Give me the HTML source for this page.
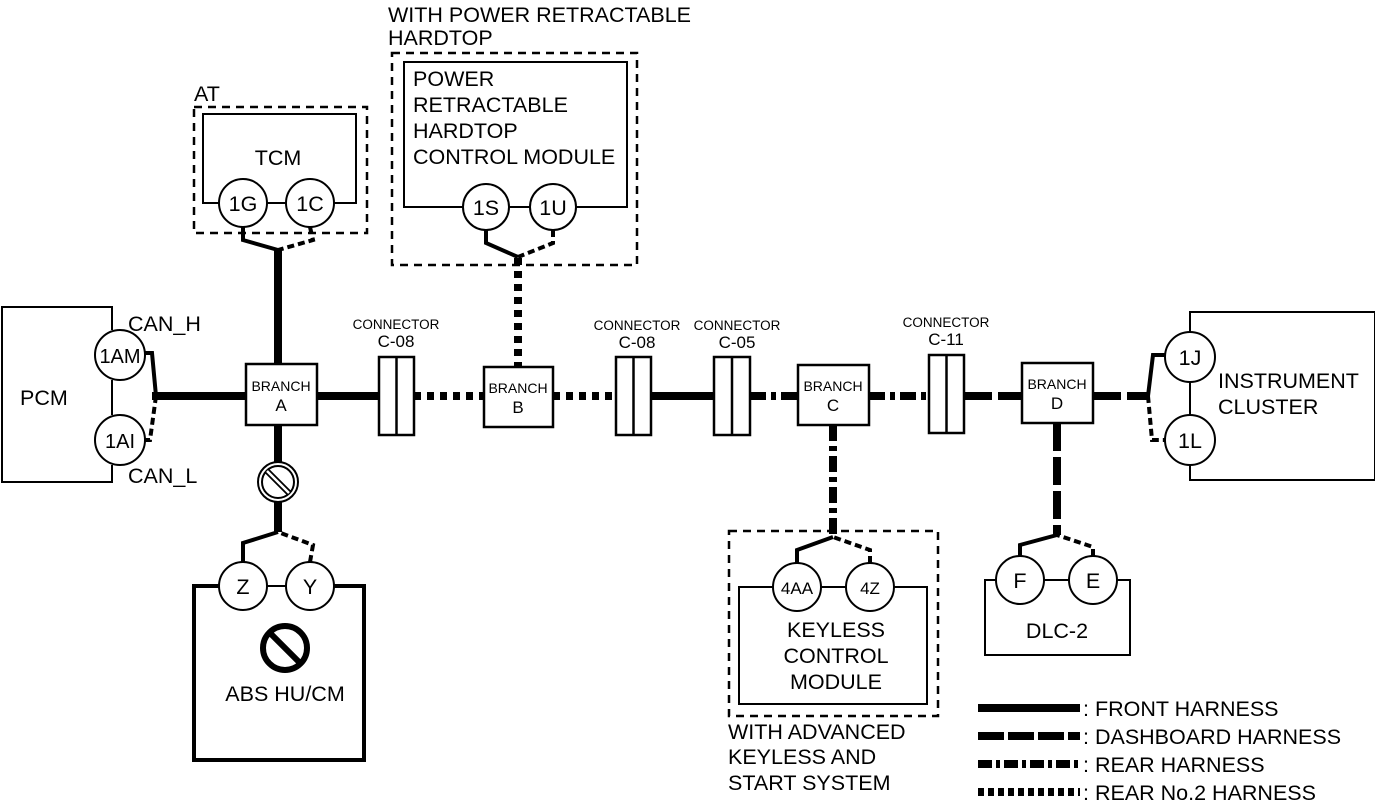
<!DOCTYPE html>
<html><head><meta charset="utf-8"><style>
html,body{margin:0;padding:0;background:#fff;}
svg{display:block;}
text{font-family:"Liberation Sans",Arial,sans-serif;fill:#000;}
</style></head><body>
<svg width="1375" height="805" viewBox="0 0 1375 805" xmlns="http://www.w3.org/2000/svg">
<g fill="none" stroke="#000">
<g stroke-width="8">
<line x1="152" y1="396" x2="246" y2="396"/>
<line x1="317" y1="396" x2="379" y2="396"/>
<line x1="651" y1="396" x2="714" y2="396"/>
<line x1="278" y1="250" x2="278" y2="364"/>
<line x1="278" y1="425" x2="278" y2="464"/>
<line x1="278" y1="500" x2="278" y2="532"/>
</g>
<g stroke-width="8" stroke-dasharray="7,6">
<line x1="414" y1="396" x2="484" y2="396"/>
<line x1="553" y1="396" x2="615" y2="396"/>
<line x1="518" y1="258" x2="518" y2="367"/>
</g>
<g stroke-width="8" stroke-dasharray="16,5,5,5">
<line x1="750" y1="396" x2="798" y2="396"/>
<line x1="869" y1="396" x2="929" y2="396"/>
<line x1="833" y1="425" x2="833" y2="537"/>
</g>
<g stroke-width="8" stroke-dasharray="28,6">
<line x1="964" y1="396" x2="1022" y2="396"/>
<line x1="1093" y1="396" x2="1148" y2="396"/>
<line x1="1057" y1="423" x2="1057" y2="535"/>
</g>
<g stroke-width="4">
<polyline points="137,353 152,353 156,396"/>
<polyline points="243,227 243,240 278,250"/>
<polyline points="486,230 486,243 518,257"/>
<polyline points="243,562 243,543 278,532"/>
<polyline points="797,563 797,550 833,537"/>
<polyline points="1020,556 1020,545 1057,535"/>
<polyline points="1166,355 1153,355 1148,396"/>
</g>
<g stroke-width="4" stroke-dasharray="7,4">
<polyline points="156,396 150,440 143,440"/>
<polyline points="310,227 313,240 278,250"/>
<polyline points="553,230 553,243 518,257"/>
<polyline points="310,562 313,545 278,532"/>
<polyline points="870,563 870,550 833,537"/>
<polyline points="1093,556 1093,547 1057,535"/>
<polyline points="1148,396 1152,440 1166,440"/>
</g>
<g stroke-width="2.5" stroke-dasharray="8,6">
<rect x="194" y="107" width="173" height="126"/>
<rect x="392" y="53" width="245" height="212"/>
<rect x="729" y="531" width="209" height="185"/>
</g>
<g stroke-width="2" fill="#fff">
<polyline points="112,330 112,307 2,307 2,482 112,482 112,465"/>
<polyline points="219,203 203,203 203,114 356,114 356,203 334,203"/>
<polyline points="463,207 404,207 404,62 627,62 627,207 576,207"/>
<polyline points="773,587 739,587 739,704 927,704 927,587 894,587"/>
<polyline points="996,580 985,580 985,655 1130,655 1130,580 1117,580"/>
<polyline points="1190,332 1190,312 1375,312 1375,480 1190,480 1190,465"/>
<line x1="112" y1="380" x2="112" y2="415"/>
<line x1="1190" y1="382" x2="1190" y2="415"/>
<line x1="267" y1="203" x2="286" y2="203"/>
<line x1="509" y1="207" x2="530" y2="207"/>
<line x1="821" y1="587" x2="846" y2="587"/>
<line x1="1044" y1="580" x2="1069" y2="580"/>
<line x1="267" y1="586" x2="286" y2="586"/>
</g>
<polyline points="219,586 194,586 194,760 364,760 364,586 334,586" stroke-width="4"/>
<g stroke-width="2" fill="#fff">
<circle cx="120" cy="355" r="25"/><circle cx="120" cy="440" r="25"/>
<circle cx="243" cy="203" r="24"/><circle cx="310" cy="203" r="24"/>
<circle cx="486" cy="207" r="23"/><circle cx="553" cy="207" r="23"/>
<circle cx="797" cy="587" r="24"/><circle cx="870" cy="587" r="24"/>
<circle cx="1020" cy="580" r="24"/><circle cx="1093" cy="580" r="24"/>
<circle cx="1190" cy="357" r="25"/><circle cx="1190" cy="440" r="25"/>
<circle cx="243" cy="586" r="24"/><circle cx="310" cy="586" r="24"/>
</g>
<g stroke-width="2.5" fill="#fff">
<rect x="246" y="364" width="71" height="61"/>
<rect x="484" y="367" width="69" height="60"/>
<rect x="798" y="365" width="71" height="60"/>
<rect x="1022" y="363" width="71" height="60"/>
<rect x="379" y="357" width="35" height="78"/><line x1="396.5" y1="357" x2="396.5" y2="435"/>
<rect x="616" y="357" width="35" height="78"/><line x1="633.5" y1="357" x2="633.5" y2="435"/>
<rect x="714" y="357" width="36" height="78"/><line x1="732" y1="357" x2="732" y2="435"/>
<rect x="929" y="355" width="35" height="78"/><line x1="946.5" y1="355" x2="946.5" y2="433"/>
</g>
<circle cx="278" cy="482" r="20" stroke-width="2" fill="#fff"/>
<circle cx="278" cy="482" r="16" stroke-width="2"/>
<line x1="267" y1="471" x2="289" y2="493" stroke-width="6"/>
<line x1="267" y1="471" x2="289" y2="493" stroke-width="2.5" stroke="#fff"/>
<circle cx="285" cy="648" r="22" stroke-width="6"/>
<line x1="270" y1="633" x2="300" y2="663" stroke-width="6"/>
<line x1="978" y1="708" x2="1080" y2="708" stroke-width="8"/>
<line x1="978" y1="736" x2="1080" y2="736" stroke-width="8" stroke-dasharray="26,4"/>
<line x1="978" y1="764" x2="1080" y2="764" stroke-width="8" stroke-dasharray="14,4,4,4"/>
<line x1="978" y1="792" x2="1080" y2="792" stroke-width="8" stroke-dasharray="6,4"/>
</g>
<g font-size="21.5">
<text x="20" y="405">PCM</text>
<text x="128" y="331">CAN_H</text>
<text x="128" y="483">CAN_L</text>
<text x="120" y="363" text-anchor="middle" font-size="20">1AM</text>
<text x="120" y="448" text-anchor="middle" font-size="20">1AI</text>
<text x="194" y="101">AT</text>
<text x="278" y="165" text-anchor="middle">TCM</text>
<text x="243" y="211" text-anchor="middle">1G</text>
<text x="310" y="211" text-anchor="middle">1C</text>
<text x="388" y="22">WITH POWER RETRACTABLE</text>
<text x="388" y="45">HARDTOP</text>
<text x="413" y="86">POWER</text>
<text x="413" y="112">RETRACTABLE</text>
<text x="413" y="138">HARDTOP</text>
<text x="413" y="164">CONTROL MODULE</text>
<text x="486" y="215" text-anchor="middle">1S</text>
<text x="553" y="215" text-anchor="middle">1U</text>
<text x="243" y="594" text-anchor="middle">Z</text>
<text x="310" y="594" text-anchor="middle">Y</text>
<text x="285" y="701" text-anchor="middle">ABS HU/CM</text>
<text x="797" y="594" text-anchor="middle" font-size="17">4AA</text>
<text x="870" y="594" text-anchor="middle" font-size="17">4Z</text>
<text x="836" y="637" text-anchor="middle">KEYLESS</text>
<text x="836" y="663" text-anchor="middle">CONTROL</text>
<text x="836" y="689" text-anchor="middle">MODULE</text>
<text x="728" y="739">WITH ADVANCED</text>
<text x="728" y="764">KEYLESS AND</text>
<text x="728" y="790">START SYSTEM</text>
<text x="1020" y="588" text-anchor="middle">F</text>
<text x="1093" y="588" text-anchor="middle">E</text>
<text x="1057" y="638" text-anchor="middle">DLC-2</text>
<text x="1190" y="365" text-anchor="middle">1J</text>
<text x="1190" y="448" text-anchor="middle">1L</text>
<text x="1218" y="388">INSTRUMENT</text>
<text x="1218" y="414">CLUSTER</text>
<text x="1083" y="716">: FRONT HARNESS</text>
<text x="1083" y="744">: DASHBOARD HARNESS</text>
<text x="1083" y="772">: REAR HARNESS</text>
<text x="1083" y="800">: REAR No.2 HARNESS</text>
</g>
<g font-size="13.5" text-anchor="middle">
<text x="396" y="329">CONNECTOR</text><text x="396" y="347" font-size="17">C-08</text>
<text x="637" y="330">CONNECTOR</text><text x="637" y="348" font-size="17">C-08</text>
<text x="737" y="330">CONNECTOR</text><text x="737" y="348" font-size="17">C-05</text>
<text x="946" y="327">CONNECTOR</text><text x="946" y="345" font-size="17">C-11</text>
</g>
<g font-size="14" text-anchor="middle">
<text x="281" y="391">BRANCH</text><text x="281" y="411" font-size="17">A</text>
<text x="518" y="393">BRANCH</text><text x="518" y="413" font-size="17">B</text>
<text x="833" y="391">BRANCH</text><text x="833" y="411" font-size="17">C</text>
<text x="1057" y="389">BRANCH</text><text x="1057" y="409" font-size="17">D</text>
</g>
</svg>
</body></html>
